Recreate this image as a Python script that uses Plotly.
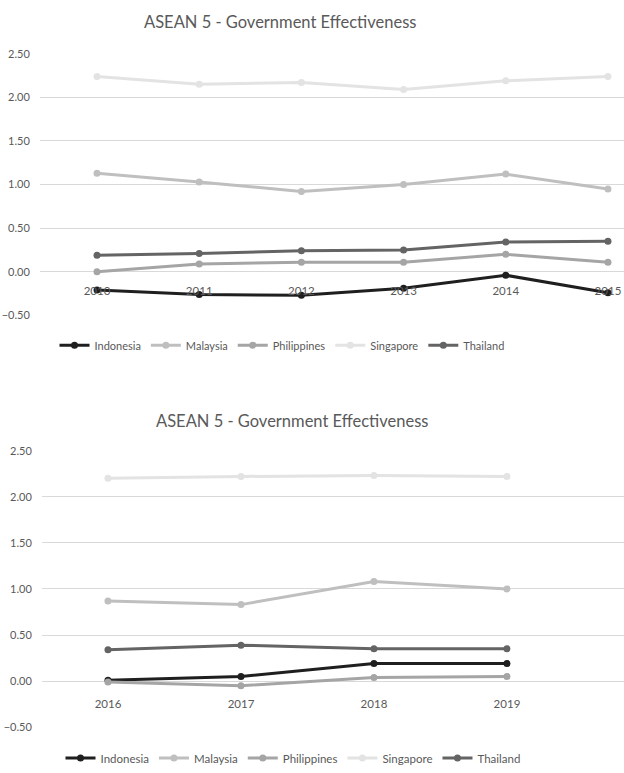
import plotly.graph_objects as go

# ---------------- data ----------------
countries = ["Indonesia", "Malaysia", "Philippines", "Singapore", "Thailand"]
colors = ["#1f1f1f", "#bfbfbf", "#a5a5a5", "#e3e3e3", "#646464"]

years_a = [2010, 2011, 2012, 2013, 2014, 2015]
indonesia_a = [-0.21, -0.26, -0.27, -0.19, -0.04, -0.24]
malaysia_a = [1.13, 1.03, 0.92, 1.00, 1.12, 0.95]
philippines_a = [0.00, 0.09, 0.11, 0.11, 0.20, 0.11]
singapore_a = [2.24, 2.15, 2.17, 2.09, 2.19, 2.24]
thailand_a = [0.19, 0.21, 0.24, 0.25, 0.34, 0.35]

years_b = [2016, 2017, 2018, 2019]
indonesia_b = [0.01, 0.05, 0.19, 0.19]
malaysia_b = [0.87, 0.83, 1.08, 1.00]
philippines_b = [-0.01, -0.05, 0.04, 0.05]
singapore_b = [2.20, 2.22, 2.23, 2.22]
thailand_b = [0.34, 0.39, 0.35, 0.35]

y_ticks = [-0.5, 0.0, 0.5, 1.0, 1.5, 2.0, 2.5]
title_text = "ASEAN 5 - Government Effectiveness"

series_a = [indonesia_a, malaysia_a, philippines_a, singapore_a, thailand_a]
series_b = [indonesia_b, malaysia_b, philippines_b, singapore_b, thailand_b]

# ---------------- layout constants ----------------
W, H = 624, 773
FONT = "Lato"
TXT = "#595959"
GRID = "#d9d9d9"

yr = [-0.5, 2.5]
dom_a = [1 - 317 / H, 1 - 54 / H]
dom_b = [1 - 731 / H, 1 - 453 / H]


def zero_pos(dom, rng):
    return dom[0] + (0 - rng[0]) / (rng[1] - rng[0]) * (dom[1] - dom[0])


fig = go.Figure()

for name, col, ya in zip(countries, colors, series_a):
    fig.add_trace(go.Scatter(
        x=years_a, y=ya, name=name, mode="lines+markers",
        line=dict(color=col, width=3), marker=dict(color=col, size=7),
        xaxis="x", yaxis="y", legend="legend"))

for name, col, yb in zip(countries, colors, series_b):
    fig.add_trace(go.Scatter(
        x=years_b, y=yb, name=name, mode="lines+markers",
        line=dict(color=col, width=3), marker=dict(color=col, size=7),
        xaxis="x2", yaxis="y2", legend="legend2"))

xtickfont = dict(family=FONT, size=11.5, color=TXT)
ytickfont = dict(family=FONT, size=11, color=TXT)
HIDDEN = "rgba(0,0,0,0)"

xcommon = dict(showgrid=False, zeroline=False, showline=False,
               ticks="outside", tickcolor=HIDDEN,
               anchor="free", tickfont=xtickfont, automargin=False)
ycommon = dict(range=yr, tickvals=y_ticks, tickformat=".2f",
               showgrid=True, gridcolor=GRID, gridwidth=1, zeroline=False,
               showline=False, ticks="outside", ticklen=7, tickcolor=HIDDEN,
               tickfont=ytickfont, automargin=False)

fig.update_layout(
    width=W, height=H,
    margin=dict(l=0, r=0, t=0, b=0),
    paper_bgcolor="white", plot_bgcolor="white",
    font=dict(family=FONT, color=TXT),
    xaxis=dict(domain=[40 / W, 1], range=[2009.442, 2015.157],
               tickvals=years_a, ticktext=[str(v) for v in years_a],
               position=zero_pos(dom_a, yr), ticklen=8, **xcommon),
    yaxis=dict(domain=dom_a, anchor="x", **ycommon),
    xaxis2=dict(domain=[42 / W, 1], range=[2015.504, 2019.88],
                tickvals=years_b, ticktext=[str(v) for v in years_b],
                position=zero_pos(dom_b, yr), ticklen=12, **xcommon),
    yaxis2=dict(domain=dom_b, anchor="x2", **ycommon),
    legend=dict(orientation="h", x=282 / W, xanchor="center",
                y=1 - 347 / H, yanchor="middle",
                font=dict(family=FONT, size=11, color=TXT),
                bgcolor="rgba(0,0,0,0)"),
    legend2=dict(orientation="h", x=293 / W, xanchor="center",
                 y=1 - 762 / H, yanchor="middle",
                 font=dict(family=FONT, size=11.5, color=TXT),
                 bgcolor="rgba(0,0,0,0)"),
    showlegend=True,
    annotations=[
        dict(text=title_text, x=280 / W, y=1 - 22 / H, xref="paper", yref="paper",
             xanchor="center", yanchor="middle", showarrow=False,
             font=dict(family=FONT, size=16.5, color=TXT)),
        dict(text=title_text, x=292 / W, y=1 - 423 / H, xref="paper", yref="paper",
             xanchor="center", yanchor="middle", showarrow=False,
             font=dict(family=FONT, size=16.5, color=TXT)),
    ],
)

fig.write_html("out.html", config={"displayModeBar": False},
               post_script="document.body.style.margin='0';")
